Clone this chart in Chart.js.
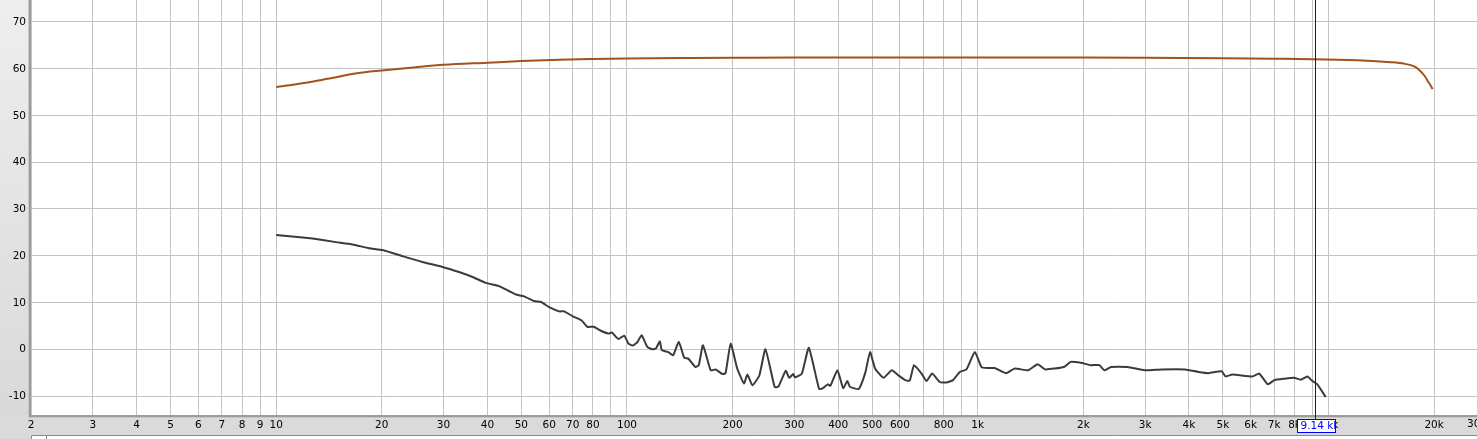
<!DOCTYPE html>
<html>
<head>
<meta charset="utf-8">
<script src="https://cdn.jsdelivr.net/npm/chart.js@4/dist/chart.umd.min.js"></script>
<style>
  html, body { margin: 0; padding: 0; background: #dadada; overflow: hidden; }
  canvas { display: block; }
</style>
</head>
<body>
<canvas id="rtaChart" width="1477" height="439"></canvas>
<script>
// Upper trace (orange), Hz / dB
const upperFreq = [10, 12, 14, 17, 20, 25, 30, 40, 50, 64, 80, 100, 150, 200, 300, 500, 1000, 2000, 3000, 5000, 7000, 9000, 12000, 15000, 16500, 17500, 18200, 18800, 19300, 19600, 19800];
const upperDb = [56.05, 56.9, 57.8, 59.0, 59.6, 60.3, 60.8, 61.25, 61.6, 61.9, 62.05, 62.15, 62.25, 62.3, 62.35, 62.35, 62.35, 62.35, 62.3, 62.2, 62.1, 62.0, 61.75, 61.35, 61.0, 60.5, 59.6, 58.4, 57.0, 56.2, 55.6];

// Lower trace (dark grey), Hz / dB
const lowerFreq = [10, 11.9, 12.7, 14.8, 16.5, 18.4, 20.1, 22.9, 26.1, 29.8, 33.2, 36.3, 39.6, 43.2, 46.2, 48.2, 50.9, 54.4, 56.9, 60, 64.1, 66.2, 69.9, 74.1, 77.1, 80.3, 84.8, 88.6, 90.5, 94.5, 98.2,
  101, 104, 107, 110.1, 114.3, 118.1, 121, 124.1, 125.7, 131.2, 135.4, 140.5, 145.6, 149.6, 156.6, 160.2, 164.7, 173.2, 178.8, 187.3, 191, 197.5,
  206.2, 215.6, 220.4, 227.9, 238.4, 248.2, 263.6, 270, 283.6, 290.1, 297.9, 301, 315.2, 329.9, 353, 362, 373.4, 380, 398.1,
  413.3, 425, 432, 457.8, 478, 493.2, 509.6, 538.8, 568.7, 594.2, 621.2, 640, 658.3, 691.5, 714.4, 741.1, 779.1, 813.5, 850, 888.8, 928.8, 981,
  1025, 1071, 1117, 1206, 1275, 1393, 1481, 1556, 1760, 1840, 1966, 2101, 2221, 2295, 2397, 2676, 2994, 3343, 3902, 4262, 4554, 4955, 5087, 5319,
  6069, 6347, 6711, 7010, 7480, 7982, 8339, 8708, 8996, 9293, 9812];
const lowerDb = [24.4, 23.9, 23.65, 22.9, 22.4, 21.6, 21.2, 19.9, 18.65, 17.6, 16.5, 15.45, 14.2, 13.5, 12.4, 11.7, 11.3, 10.3, 10.1, 9.0, 8.1, 8.1, 7.1, 6.2, 4.8, 4.8, 3.85, 3.35, 3.6, 2.2, 2.9,
  1.2, 0.8, 1.5, 3.0, 0.5, 0.0, 0.2, 1.7, -0.2, -0.6, -1.3, 1.6, -1.8, -2.0, -3.8, -3.4, 0.85, -4.5, -4.3, -5.3, -5.1, 1.2,
  -4.1, -7.3, -5.4, -7.7, -5.6, 0.0, -8.05, -8.0, -4.6, -6.1, -5.3, -6.0, -5.2, 0.3, -8.5, -8.3, -7.5, -7.8, -4.5,
  -8.3, -6.8, -8.0, -8.5, -5.0, -0.6, -4.1, -6.1, -4.5, -5.6, -6.6, -6.7, -3.4, -5.2, -6.8, -5.2, -7.0, -7.1, -6.6, -4.85, -4.3, -0.6,
  -3.8, -4.0, -4.0, -5.1, -4.1, -4.5, -3.2, -4.3, -3.8, -2.7, -2.9, -3.4, -3.4, -4.5, -3.8, -3.8, -4.5, -4.3, -4.3, -4.85, -5.1, -4.7, -5.8, -5.4,
  -5.8, -5.2, -7.5, -6.6, -6.3, -6.1, -6.5, -5.8, -6.8, -7.5, -10.2];

// Axis ticks
const xTickValues = [2, 3, 4, 5, 6, 7, 8, 9, 10, 20, 30, 40, 50, 60, 70, 80, 90, 100, 200, 300, 400, 500, 600, 700, 800, 900,
  1000, 2000, 3000, 4000, 5000, 6000, 7000, 8000, 9000, 10000, 20000];
const xTickLabels = ["2", "3", "4", "5", "6", "7", "8", "9", "10", "20", "30", "40", "50", "60", "70", "80", "", "100", "200", "300", "400", "500", "600", "", "800", "",
  "1k", "2k", "3k", "4k", "5k", "6k", "7k", "8k", "", "10k", "20k"];
const yTickValues = [-10, 0, 10, 20, 30, 40, 50, 60, 70];
const edgeLabel = "30k";

// Cursor
const cursorFreq = 9140;
const cursorLabel = "9.14 kHz";

const labelFont = "10.5px 'DejaVu Sans', sans-serif";

function toPoints(xs, ys) {
    return xs.map((x, i) => ({ x: x, y: ys[i] }));
}

const framePlugin = {
    id: "frame",
    beforeDraw(chart) {
        const ctx = chart.ctx;
        const a = chart.chartArea;
        ctx.save();
        ctx.fillStyle = "#dadada";
        ctx.fillRect(0, 0, chart.width, chart.height);
        // left panel gradient
        let g = ctx.createLinearGradient(0, 0, 0, a.bottom);
        g.addColorStop(0, "#eeeeee");
        g.addColorStop(1, "#d9d9d9");
        ctx.fillStyle = g;
        ctx.fillRect(0, 0, a.left, a.bottom);
        ctx.fillStyle = "#ffffff";
        ctx.fillRect(a.left, a.top, a.right - a.left, a.bottom - a.top);
        ctx.restore();
    },
    afterDraw(chart) {
        const ctx = chart.ctx;
        const a = chart.chartArea;
        const xs = chart.scales.x;
        const ys = chart.scales.y;
        ctx.save();

        // plot frame (left + bottom shadow edge)
        ctx.fillStyle = "#9c9c9c";
        ctx.fillRect(a.left - 2, a.top, 2, a.bottom - a.top + 2);
        ctx.fillRect(a.left - 2, a.bottom, a.right - a.left + 2, 2);
        ctx.fillStyle = "#c8c8c8";
        ctx.fillRect(a.left - 3, a.top, 1, a.bottom - a.top + 3);
        ctx.fillRect(a.left - 3, a.bottom + 2, a.right - a.left + 3, 1);

        // y labels
        ctx.font = labelFont;
        ctx.fillStyle = "#000";
        ctx.textAlign = "right";
        ctx.textBaseline = "middle";
        yTickValues.forEach(v => {
            ctx.fillText(String(v), a.left - 5, ys.getPixelForValue(v) + 0.5);
        });

        // label of the next decade, cut by the window edge
        ctx.textAlign = "left";
        ctx.textBaseline = "top";
        ctx.fillText(edgeLabel, a.right - 10, a.bottom + 4);

        // cursor line + readout box
        const cx = Math.round(xs.getPixelForValue(cursorFreq)) + 0.5;
        ctx.strokeStyle = "#0000ff";
        ctx.lineWidth = 1;
        ctx.beginPath();
        ctx.moveTo(cx, a.top);
        ctx.lineTo(cx, a.bottom + 4);
        ctx.stroke();
        const bw = 38, bh = 13;
        const bx = Math.round(cx - bw / 2) + 0.5, by = a.bottom + 4.5;
        ctx.fillStyle = "#ffffff";
        ctx.fillRect(bx, by, bw, bh);
        ctx.save();
        ctx.beginPath();
        ctx.rect(bx, by, bw, bh);
        ctx.clip();
        ctx.fillStyle = "#0000ff";
        ctx.textAlign = "left";
        ctx.textBaseline = "middle";
        ctx.fillText(cursorLabel, bx + 3, by + bh / 2 + 0.5);
        ctx.restore();
        ctx.strokeStyle = "#0000ff";
        ctx.strokeRect(bx, by, bw, bh);

        // scrollbar strip at the bottom
        ctx.fillStyle = "#ffffff";
        ctx.fillRect(a.left, chart.height - 4, a.right - a.left, 4);
        ctx.strokeStyle = "#8a8a8a";
        ctx.beginPath();
        ctx.moveTo(a.left + 0.5, chart.height);
        ctx.lineTo(a.left + 0.5, chart.height - 3.5);
        ctx.lineTo(a.right, chart.height - 3.5);
        ctx.moveTo(a.left + 15.5, chart.height);
        ctx.lineTo(a.left + 15.5, chart.height - 3.5);
        ctx.stroke();

        ctx.restore();
    }
};

const ctx = document.getElementById("rtaChart").getContext("2d");
new Chart(ctx, {
    type: "line",
    data: {
        datasets: [
            {
                data: toPoints(upperFreq, upperDb),
                borderColor: "#a4521b",
                borderWidth: 2,
                pointRadius: 0,
                cubicInterpolationMode: "monotone",
                fill: false
            },
            {
                data: toPoints(lowerFreq, lowerDb),
                borderColor: "#3b3b3b",
                borderWidth: 2,
                pointRadius: 0,
                tension: 0.15,
                fill: false
            }
        ]
    },
    options: {
        responsive: false,
        animation: false,
        events: [],
        parsing: true,
        layout: { padding: 0 },
        plugins: {
            legend: { display: false },
            tooltip: { enabled: false }
        },
        scales: {
            x: {
                type: "logarithmic",
                min: 2,
                max: 26500,
                afterBuildTicks: scale => {
                    scale.ticks = xTickValues.map(v => ({ value: v }));
                },
                afterFit: scale => { scale.height = 24; },
                border: { display: false },
                grid: { color: "#c3c3c3", lineWidth: 1, drawTicks: false },
                ticks: {
                    autoSkip: false,
                    maxRotation: 0,
                    padding: 4,
                    color: "#000",
                    font: { family: "'DejaVu Sans', sans-serif", size: 10.5 },
                    callback: (value, index) => xTickLabels[index]
                }
            },
            y: {
                type: "linear",
                min: -14.05,
                max: 74.65,
                afterBuildTicks: scale => {
                    scale.ticks = yTickValues.map(v => ({ value: v }));
                },
                afterFit: scale => { scale.width = 31; },
                border: { display: false },
                grid: { color: "#c3c3c3", lineWidth: 1, drawTicks: false },
                ticks: { display: false }
            }
        }
    },
    plugins: [framePlugin]
});
</script>
</body>
</html>
